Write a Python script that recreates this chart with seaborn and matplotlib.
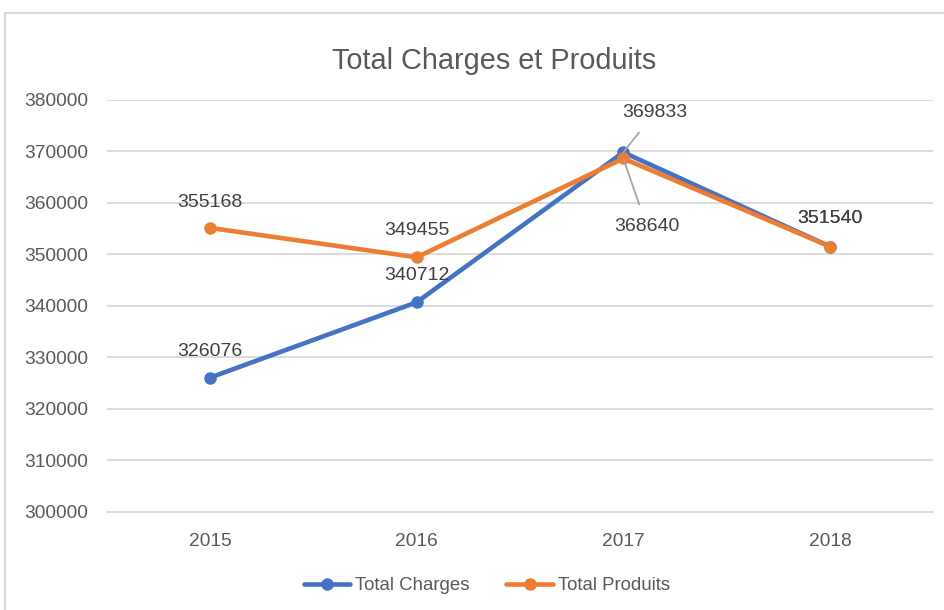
import pandas as pd
import matplotlib.pyplot as plt
import seaborn as sns
from matplotlib.patches import Rectangle

# data
years = [2015, 2016, 2017, 2018]
total_charges = [326076, 340712, 369833, 351540]
total_produits = [355168, 349455, 368640, 351540]
series_names = ["Total Charges", "Total Produits"]
y_ticks = list(range(300000, 380001, 10000))

df = pd.DataFrame({
    "Année": years * 2,
    "Montant": total_charges + total_produits,
    "Série": [series_names[0]] * 4 + [series_names[1]] * 4,
})

sns.set_style("white")
plt.rcParams["font.family"] = ["Liberation Sans", "DejaVu Sans"]
txt = "#595959"

fig = plt.figure(figsize=(9.45, 6.1), dpi=100)
ax = fig.add_axes([0.1127, 0.1607, 0.875, 0.6754])

sns.lineplot(data=df, x="Année", y="Montant", hue="Série",
             palette=["#4472C4", "#ED7D31"], marker="o", markersize=9,
             markeredgewidth=0, linewidth=3.3, ax=ax)

ax.set_xlim(2014.5, 2018.5)
ax.set_ylim(300000, 380000)
ax.set_xticks(years)
ax.set_yticks(y_ticks)
ax.yaxis.grid(True, color="#D9D9D9", linewidth=1.3)
ax.set_axisbelow(True)
for s in ["top", "right", "left"]:
    ax.spines[s].set_visible(False)
ax.spines["bottom"].set_color("#D9D9D9")
ax.spines["bottom"].set_linewidth(1.3)
ax.tick_params(axis="both", length=0, labelsize=13.8, labelcolor=txt)
ax.tick_params(axis="x", pad=15)
ax.tick_params(axis="y", pad=13)
ax.set_xlabel("")
ax.set_ylabel("")

# data labels
lab = dict(fontsize=14, color="#404040", ha="center", va="center", textcoords="offset points")
ax.annotate(str(total_charges[0]), (years[0], total_charges[0]), xytext=(0, 18.5), **lab)
ax.annotate(str(total_produits[0]), (years[0], total_produits[0]), xytext=(0, 18.5), **lab)
ax.annotate(str(total_produits[1]), (years[1], total_produits[1]), xytext=(0, 19), **lab)
ax.annotate(str(total_charges[1]), (years[1], total_charges[1]), xytext=(0, 19), **lab)
ax.annotate(str(total_charges[2]), (years[2], total_charges[2]), xytext=(23, 29), **lab,
            arrowprops=dict(arrowstyle="-", color="#A6A6A6", lw=1.3, shrinkA=8, shrinkB=0))
ax.annotate(str(total_produits[2]), (years[2], total_produits[2]), xytext=(17, -49), **lab,
            arrowprops=dict(arrowstyle="-", color="#A6A6A6", lw=1.3, shrinkA=8, shrinkB=0))
ax.annotate(str(total_produits[3]), (years[3], total_produits[3]), xytext=(0, 20.5), **lab)
ax.annotate(str(total_charges[3]), (years[3], total_charges[3]), xytext=(0, 20.5), **lab)

fig.text(0.523, 0.9, "Total Charges et Produits", fontsize=20.8, color=txt, ha="center", va="center")

ax.legend(loc="center", bbox_to_anchor=(0.515, 0.04), bbox_transform=fig.transFigure,
          ncol=2, frameon=False, fontsize=13.4, labelcolor=txt, handlelength=2.5,
          handletextpad=0.25, columnspacing=2.0)

fig.add_artist(Rectangle((5 / 945, -0.1), 1.2, 1 - 13 / 610 + 0.1, transform=fig.transFigure,
                         fill=False, edgecolor="#D9D9D9", linewidth=1.5))

fig.savefig("out.png", dpi=100, facecolor="white")
